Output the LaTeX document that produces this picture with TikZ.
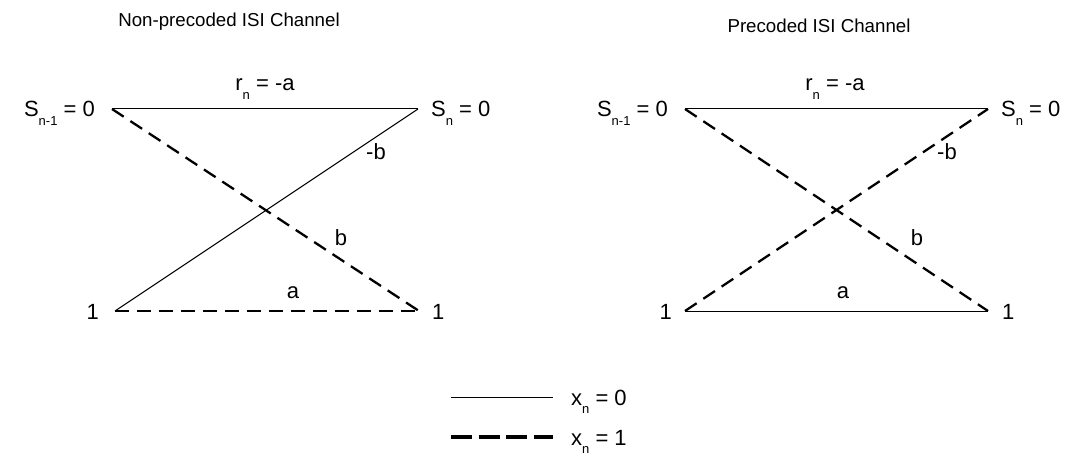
\documentclass[tikz,border=0pt]{standalone}
\usepackage{fontspec}
\setmainfont{Liberation Sans}
\newcommand\subtx[1]{\raisebox{-0.4em}{\fontsize{13}{13}\selectfont #1}}
\begin{document}
\begin{tikzpicture}[x=1pt,y=-1pt,
  lbl/.style={inner sep=0pt,font=\fontsize{22}{26}\selectfont},
  ttl/.style={inner sep=0pt,font=\fontsize{18.7}{22}\selectfont},
  zero/.style={line width=1pt},
  one/.style={line width=2.3pt,dash pattern=on 14pt off 8pt},
  legone/.style={line width=3.5pt,dash pattern=on 21pt off 6.5pt}]
\useasboundingbox (0,0) rectangle (1070,462);
% titles
\node[ttl] (t1) at (229,22) {Non-precoded ISI Channel};
\node[ttl] (t2) at (819,26) {Precoded ISI Channel};
% left diagram
\coordinate (a0) at (112,109);
\coordinate (a1) at (418,109);
\coordinate (a2) at (115,311);
\coordinate (a3) at (419,311);
\draw[zero] (a0) -- (a1);
\draw[zero] (a2) -- (a1);
\draw[one] (a0) -- (a3);
\draw[one,line width=1.8pt] (a2) -- (a3);
\node[lbl,anchor=base east] (la0) at (95,117) {S\subtx{n-1} = 0};
\node[lbl,anchor=base west] (la1) at (431,117) {S\subtx{n} = 0};
\node[lbl,anchor=base east] (la2) at (99,319) {1};
\node[lbl,anchor=base west] (la3) at (432,319) {1};
\node[lbl,anchor=base] (lar) at (265,91) {r\subtx{n} = -a};
\node[lbl,anchor=base] (lab1) at (376,160) {-b};
\node[lbl,anchor=base] (lab2) at (341,246) {b};
\node[lbl,anchor=base] (laa) at (293,298) {a};
% right diagram
\coordinate (b0) at (685,109);
\coordinate (b1) at (988,109);
\coordinate (b2) at (685,311);
\coordinate (b3) at (988,311);
\draw[zero] (b0) -- (b1);
\draw[zero] (b2) -- (b3);
\draw[one] (b0) -- (b3);
\draw[one] (b2) -- (b1);
\node[lbl,anchor=base east] (lb0) at (668,117) {S\subtx{n-1} = 0};
\node[lbl,anchor=base west] (lb1) at (1001,117) {S\subtx{n} = 0};
\node[lbl,anchor=base east] (lb2) at (672,319) {1};
\node[lbl,anchor=base west] (lb3) at (1002,319) {1};
\node[lbl,anchor=base] (lbr) at (835,91) {r\subtx{n} = -a};
\node[lbl,anchor=base] (lbb1) at (947,160) {-b};
\node[lbl,anchor=base] (lbb2) at (917,246) {b};
\node[lbl,anchor=base] (lba) at (843,298) {a};
% legend
\coordinate (g0) at (451,397);
\coordinate (g1) at (553,397);
\coordinate (g2) at (451,437);
\coordinate (g3) at (553,437);
\draw[zero] (g0) -- (g1);
\draw[legone] (g2) -- (g3);
\node[lbl,anchor=base west] (lg0) at (571,405) {x\subtx{n} = 0};
\node[lbl,anchor=base west] (lg1) at (571,445) {x\subtx{n} = 1};
\end{tikzpicture}
\end{document}
